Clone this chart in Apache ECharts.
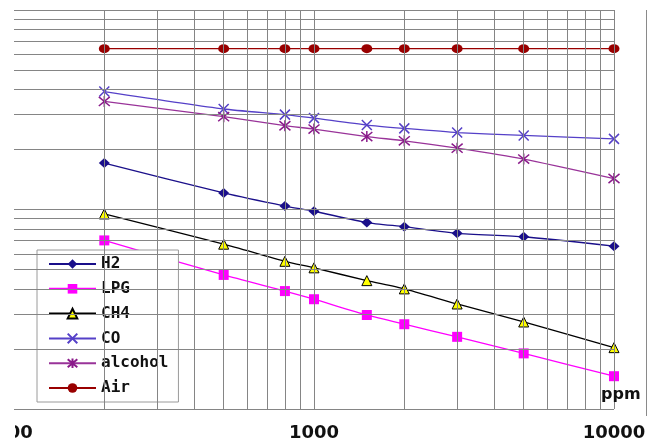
<!DOCTYPE html>
<html>
<head>
<meta charset="utf-8">
<script src="https://cdn.jsdelivr.net/npm/echarts@6/dist/echarts.min.js"></script>
<style>html,body{margin:0;padding:0;background:#fff;}#c{width:653px;height:445px;}</style>
</head>
<body>
<div id="c"></div>
<script>
const ppm = [200, 500, 800, 1000, 1500, 2000, 3000, 5000, 10000];
const h2 = [1.71, 1.21, 1.04, 0.98, 0.86, 0.82, 0.76, 0.73, 0.655];
const lpg = [0.70, 0.47, 0.39, 0.355, 0.296, 0.266, 0.23, 0.19, 0.146];
const ch4 = [0.95, 0.67, 0.55, 0.51, 0.44, 0.40, 0.336, 0.273, 0.203];
const co = [3.90, 3.19, 2.99, 2.87, 2.65, 2.55, 2.43, 2.35, 2.26];
const alcohol = [3.48, 2.92, 2.63, 2.53, 2.32, 2.21, 2.03, 1.79, 1.43];
const air = [6.4, 6.4, 6.4, 6.4, 6.4, 6.4, 6.4, 6.4, 6.4];
const seriesNames = ['H2', 'LPG', 'CH4', 'CO', 'alcohol', 'Air'];
const xGrid = [200, 300, 400, 500, 600, 700, 800, 900, 1000, 2000, 3000, 4000, 5000, 6000, 7000, 8000, 9000, 10000];
const yGrid = [0.1, 0.2, 0.3, 0.4, 0.5, 0.6, 0.7, 0.8, 0.9, 1, 2, 3, 4, 5, 6, 7, 8, 9, 10];

const pairs = arr => ppm.map((x, i) => [x, arr[i]]);
const chart = echarts.init(document.getElementById('c'), null, {renderer: 'canvas'});

function mk(name, data, color, symbol, size, extraItem) {
  return {
    name: name, type: 'line', data: pairs(data), z: 3,
    symbol: symbol, symbolSize: size, smooth: 0.2,
    lineStyle: {color: color, width: 1.3},
    itemStyle: Object.assign({color: color}, extraItem || {}),
    emphasis: {disabled: true}, animation: false
  };
}

const gridLines = [];
xGrid.forEach(v => gridLines.push({xAxis: v}));
yGrid.forEach(v => gridLines.push({yAxis: v}));

const option = {
  animation: false,
  grid: {left: 14, right: 39, top: 10, bottom: 36, containLabel: false, outerBoundsMode: 'none'},
  xAxis: {
    type: 'log', min: 100, max: 10000, logBase: 10,
    axisLine: {show: false}, axisTick: {show: false}, splitLine: {show: false},
    axisLabel: {fontFamily: 'DejaVu Sans', fontWeight: 'bold', fontSize: 18, color: '#111', margin: 15,
      formatter: v => String(Math.round(v))}
  },
  yAxis: {
    type: 'log', min: 0.1, max: 10, logBase: 10,
    axisLine: {show: false}, axisTick: {show: false}, splitLine: {show: false},
    axisLabel: {show: false}
  },
  legend: {
    data: seriesNames, orient: 'vertical', left: 37, top: 250,
    backgroundColor: '#fff', borderColor: '#9a9a9a', borderWidth: 1,
    padding: [6, 10, 6, 11], itemWidth: 47, itemHeight: 12, itemGap: 8.8,
    textStyle: {fontFamily: 'DejaVu Sans Mono', fontWeight: 'bold', fontSize: 16, color: '#111', lineHeight: 14}
  },
  series: [
    {
      name: 'grid', type: 'line', data: [], z: 1, silent: true, symbol: 'none',
      markLine: {
        silent: true, symbol: 'none', label: {show: false}, animation: false,
        lineStyle: {type: 'solid', color: '#858585', width: 1},
        emphasis: {disabled: true},
        data: gridLines
      }
    },
    mk('H2', h2, '#1a0f8a', 'diamond', [11, 10]),
    mk('LPG', lpg, '#ff00ff', 'rect', 10),
    Object.assign(mk('CH4', ch4, '#000000', 'triangle', 10), {itemStyle: {color: '#ffff00', borderColor: '#000', borderWidth: 1}}),
    mk('CO', co, '#5540c8', 'path://M0,0L10,10M10,0L0,10', 10, {borderColor: '#5540c8', borderWidth: 1.5}),
    mk('alcohol', alcohol, '#993399', 'path://M0,0L10,10M10,0L0,10M5,-1L5,11', 11, {borderColor: '#8a1a8a', borderWidth: 1.5}),
    mk('Air', air, '#990000', 'circle', [11, 9])
  ],
  graphic: [
    {type: 'text', left: 601, top: 387, z: 10, style: {text: 'ppm', font: 'bold 16px "DejaVu Sans"', fill: '#111'}},
    {type: 'line', z: 10, shape: {x1: 646.5, y1: 10, x2: 646.5, y2: 416}, style: {stroke: '#8a8a8a', lineWidth: 1}},
    {type: 'rect', z: 20, shape: {x: 0, y: 412, width: 15, height: 33}, style: {fill: '#fff'}}
  ]
};
chart.setOption(option);
</script>
</body>
</html>
